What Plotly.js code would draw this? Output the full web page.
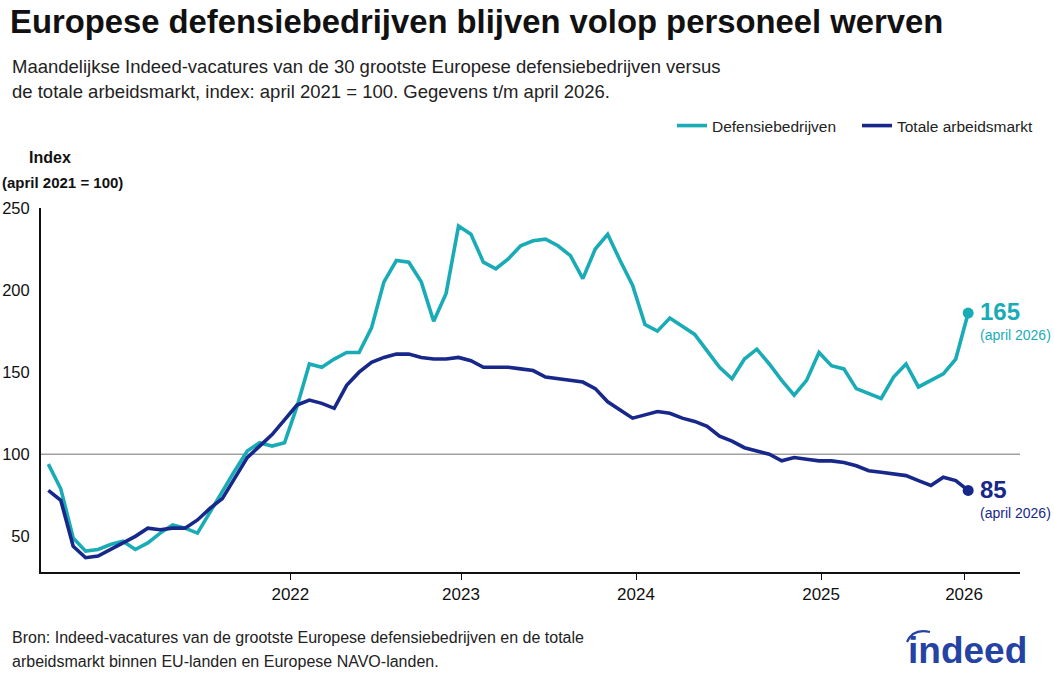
<!DOCTYPE html>
<html>
<head>
<meta charset="utf-8">
<script src="https://cdn.plot.ly/plotly-3.0.1.min.js"></script>
<style>
  html, body { margin: 0; padding: 0; background: #ffffff; }
  #chart { width: 1054px; height: 676px; }
</style>
</head>
<body>
<div id="chart"></div>
<script>
// ---- data ----
const seriesNames = ["Defensiebedrijven", "Totale arbeidsmarkt"];
const defensie = [
  94, 79, 49, 41, 42, 45, 47, 42, 46, 52,
  57, 55, 52, 65, 78, 90, 102, 107, 105, 107,
  129, 155, 153, 158, 162, 162, 177, 205, 218, 217,
  205, 181, 198, 239, 234, 217, 213, 219, 227, 230,
  231, 227, 221, 207, 225, 234, 218, 203, 179, 175,
  183, 178, 173, 163, 153, 146, 158, 164, 155, 145,
  136, 145, 162, 154, 152, 140, 137, 134, 147, 155,
  141, 145, 149, 158, 186
];
const totaal = [
  78, 72, 44, 37, 38, 42, 46, 50, 55, 54,
  55, 55, 60, 67, 73, 85, 98, 105, 112, 121,
  130, 133, 131, 128, 142, 150, 156, 159, 161, 161,
  159, 158, 158, 159, 157, 153, 153, 153, 152, 151,
  147, 146, 145, 144, 140, 132, 127, 122, 124, 126,
  125, 122, 120, 117, 111, 108, 104, 102, 100, 96,
  98, 97, 96, 96, 95, 93, 90, 89, 88, 87,
  84, 81, 86, 84, 78
];
const yearLabels = ["2022", "2023", "2024", "2025", "2026"];
const yearTickPos = [19.47, 33.2, 47.28, 62.17, 73.67]; // position on the month-index axis
const yTicks = [50, 100, 150, 200, 250];
const baseline = 100;
const endLabels = ["165", "85"];
const endSubLabel = "(april 2026)";

// ---- style ----
const TEAL = "#1aacb6";
const NAVY = "#17288a";
const LOGO = "#2443a3";
const FONT = "Liberation Sans Narrow, Arial Narrow, sans-serif";
const W = 1054, H = 676;
const M = { l: 41, r: 34, t: 208, b: 104, autoexpand: false };
const pw = W - M.l - M.r, ph = H - M.t - M.b;
const px = x => (x - M.l) / pw;
const py = y => (H - M.b - y) / ph;

const idx = defensie.map((_, i) => i);
const lastSize = arr => arr.map((_, i) => (i === arr.length - 1 ? 11 : 0));

const traces = [
  {
    x: idx, y: defensie, name: seriesNames[0], type: "scatter", mode: "lines+markers",
    line: { color: TEAL, width: 3.6 },
    marker: { color: TEAL, size: lastSize(defensie), opacity: 1, line: { width: 0 } },
    hoverinfo: "skip"
  },
  {
    x: idx, y: totaal, name: seriesNames[1], type: "scatter", mode: "lines+markers",
    line: { color: NAVY, width: 3.6 },
    marker: { color: NAVY, size: lastSize(totaal), opacity: 1, line: { width: 0 } },
    hoverinfo: "skip"
  }
];

const ann = (text, x, y, opts) => Object.assign({
  text, xref: "paper", yref: "paper", x: px(x), y: py(y),
  xanchor: "left", yanchor: "middle", showarrow: false,
  font: { family: FONT, size: 18.5, color: "#222" }
}, opts || {});

const lastD = defensie[defensie.length - 1];
const lastT = totaal[totaal.length - 1];

// logo swoosh above the "i" (decoration, pixel coordinates -> paper)
const swoosh = "M " + px(907) + " " + py(642) + " Q " + px(913) + " " + py(628) + " " + px(930) + " " + py(632);

const layout = {
  width: W, height: H,
  margin: M,
  paper_bgcolor: "#ffffff",
  plot_bgcolor: "#ffffff",
  font: { family: FONT, color: "#222" },
  title: {
    text: "<b>Europese defensiebedrijven blijven volop personeel werven</b>",
    xref: "container", yref: "container",
    x: 10 / W, xanchor: "left", y: 1 - 22 / H, yanchor: "middle",
    font: { family: FONT, size: 32.8, color: "#111" }
  },
  showlegend: true,
  legend: {
    orientation: "h", xref: "paper", yref: "paper",
    x: px(672), xanchor: "left", y: py(126), yanchor: "middle",
    font: { family: FONT, size: 15.5, color: "#222" },
    itemwidth: 30, entrywidth: 140, entrywidthmode: "pixels",
    tracegroupgap: 0, bgcolor: "rgba(0,0,0,0)"
  },
  xaxis: {
    range: [-0.59, 78.17],
    showgrid: false, zeroline: false,
    showline: true, linecolor: "#111", linewidth: 2,
    tickmode: "array", tickvals: yearTickPos, ticktext: yearLabels,
    ticks: "outside", ticklen: 6, tickcolor: "#111", tickwidth: 1,
    tickfont: { family: FONT, size: 17, color: "#111" },
    fixedrange: true
  },
  yaxis: {
    range: [28.3, 250],
    showgrid: false, zeroline: false,
    showline: true, linecolor: "#111", linewidth: 2,
    tickmode: "array", tickvals: yTicks,
    ticks: "", ticklabelstandoff: 6,
    tickfont: { family: FONT, size: 16.5, color: "#111" },
    fixedrange: true
  },
  shapes: [
    {
      type: "line", xref: "paper", yref: "y", x0: 0, x1: 1, y0: baseline, y1: baseline,
      line: { color: "#a0a0a0", width: 1.6 }, layer: "below"
    },
    {
      type: "path", xref: "paper", yref: "paper", path: swoosh,
      line: { color: LOGO, width: 2.2 }
    }
  ],
  annotations: [
    ann("Maandelijkse Indeed-vacatures van de 30 grootste Europese defensiebedrijven versus", 10, 66),
    ann("de totale arbeidsmarkt, index: april 2021 = 100. Gegevens t/m april 2026.", 10, 91),
    ann("<b>Index</b>", 50, 157, { xanchor: "center", font: { family: FONT, size: 16, color: "#111" } }),
    ann("<b>(april 2021 = 100)</b>", 62, 182, { xanchor: "center", font: { family: FONT, size: 15, color: "#111" } }),
    { text: "<b>" + endLabels[0] + "</b>", xref: "x", yref: "y", x: idx[idx.length - 1], y: lastD,
      xanchor: "left", yanchor: "middle", xshift: 10, yshift: 2, showarrow: false,
      font: { family: FONT, size: 24, color: TEAL } },
    { text: endSubLabel, xref: "x", yref: "y", x: idx[idx.length - 1], y: lastD,
      xanchor: "left", yanchor: "middle", xshift: 10, yshift: -22, showarrow: false,
      font: { family: FONT, size: 14, color: TEAL } },
    { text: "<b>" + endLabels[1] + "</b>", xref: "x", yref: "y", x: idx[idx.length - 1], y: lastT,
      xanchor: "left", yanchor: "middle", xshift: 10, yshift: 1, showarrow: false,
      font: { family: FONT, size: 24, color: NAVY } },
    { text: endSubLabel, xref: "x", yref: "y", x: idx[idx.length - 1], y: lastT,
      xanchor: "left", yanchor: "middle", xshift: 10, yshift: -23, showarrow: false,
      font: { family: FONT, size: 14, color: NAVY } },
    ann("Bron: Indeed-vacatures van de grootste Europese defensiebedrijven en de totale", 10, 637, { font: { family: FONT, size: 16, color: "#222" } }),
    ann("arbeidsmarkt binnen EU-landen en Europese NAVO-landen.", 10, 661, { font: { family: FONT, size: 16, color: "#222" } }),
    ann("<b>indeed</b>", 1029, 650, { xanchor: "right", font: { family: "Liberation Sans, Arial, sans-serif", size: 37, color: LOGO } })
  ]
};

Plotly.newPlot("chart", traces, layout, { displayModeBar: false, staticPlot: true });
</script>
</body>
</html>
